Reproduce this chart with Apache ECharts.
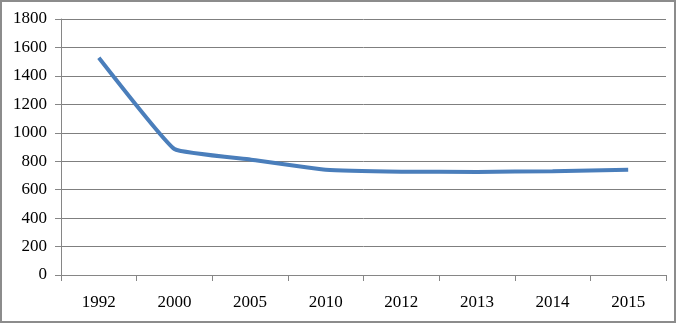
<!DOCTYPE html>
<html><head><meta charset="utf-8">
<script src="https://cdn.jsdelivr.net/npm/echarts@6/dist/echarts.min.js"></script>
<style>
html,body{margin:0;padding:0;background:#fff;}
#c{width:676px;height:323px;box-sizing:border-box;border:2px solid #8c8c8c;}
</style></head>
<body><div id="c"></div>
<script>
const categories = ['1992','2000','2005','2010','2012','2013','2014','2015'];
const values = [1528, 886, 812, 740, 726, 725, 730, 740];
const yMin = 0, yMax = 1800, yStep = 200;

const chart = echarts.init(document.getElementById('c'));
chart.setOption({
  animation: false,
  grid: {left: 59, right: 8, top: 17, bottom: 46, containLabel: false},
  xAxis: {
    type: 'category', data: categories, boundaryGap: true,
    axisLine: {lineStyle: {color: '#868686', width: 1}},
    axisTick: {show: true, alignWithLabel: false, length: 6, lineStyle: {color: '#868686'}},
    axisLabel: {color: '#000', fontFamily: 'Liberation Serif', fontSize: 17, margin: 19},
    splitLine: {show: false}
  },
  yAxis: {
    type: 'value', min: yMin, max: yMax, interval: yStep,
    axisLine: {show: true, lineStyle: {color: '#868686', width: 1}},
    axisTick: {show: true, length: 6, lineStyle: {color: '#868686'}},
    axisLabel: {color: '#000', fontFamily: 'Liberation Serif', fontSize: 17, margin: 14,
      formatter: v => String(v)},
    splitLine: {show: true, lineStyle: {color: '#7f7f7f', width: 1}}
  },
  series: [{
    type: 'line', data: values, smooth: 0.1, symbol: 'none',
    lineStyle: {color: '#4A7EBB', width: 4}
  }]
});
</script></body></html>
